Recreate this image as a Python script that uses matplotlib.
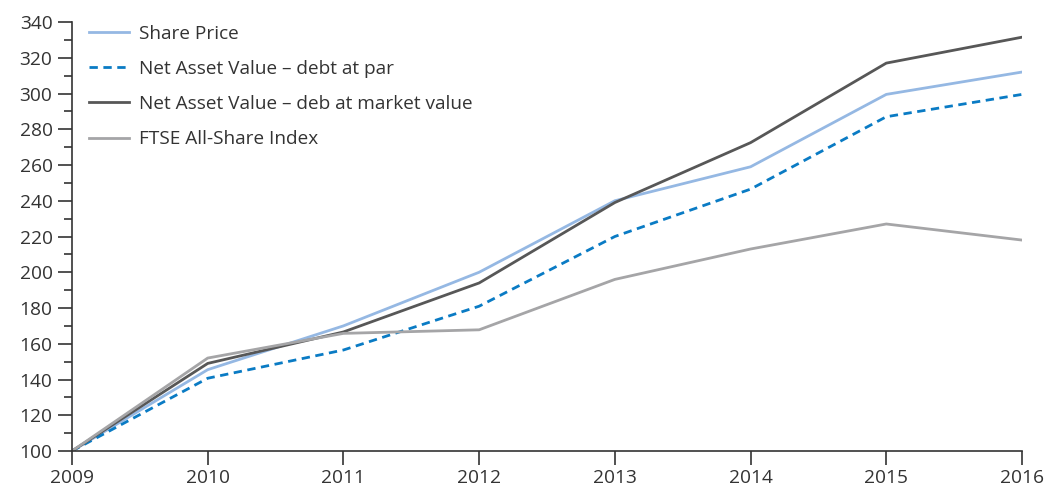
import matplotlib
matplotlib.use("Agg")
import matplotlib.pyplot as plt
from matplotlib.ticker import MultipleLocator

years = [2009, 2010, 2011, 2012, 2013, 2014, 2015, 2016]
share_price = [100, 145.5, 170, 200, 240, 259, 299.5, 312]
nav_par = [100, 140.7, 156.5, 181, 220, 246.5, 287, 299.5]
nav_market = [100, 149, 166.6, 194, 239, 272.5, 317, 331.5]
ftse = [100, 152, 165.8, 167.8, 196, 213, 227, 218]
labels = ["Share Price", "Net Asset Value \u2013 debt at par",
          "Net Asset Value \u2013 deb at market value", "FTSE All-Share Index"]

plt.rcParams['font.family'] = ['Open Sans', 'DejaVu Sans']
txt = '#333333'

fig = plt.figure(figsize=(10.48, 4.9), dpi=100)
ax = fig.add_axes([72/1048, 39/490, 950/1048, 429/490])

ax.plot(years, share_price, color='#95B8E3', lw=2.0, label=labels[0])
ax.plot(years, nav_par, color='#0A7BC4', lw=2.0, ls=(0, (3, 2)), label=labels[1])
ax.plot(years, nav_market, color='#575757', lw=2.0, label=labels[2])
ax.plot(years, ftse, color='#A5A5A7', lw=2.0, label=labels[3])

ax.set_xlim(2009, 2016)
ax.set_ylim(100, 340)
ax.set_xticks(years)
ax.yaxis.set_major_locator(MultipleLocator(20))
ax.yaxis.set_minor_locator(MultipleLocator(10))

for s in ['top', 'right']:
    ax.spines[s].set_visible(False)
for s in ['left', 'bottom']:
    ax.spines[s].set_color(txt)
    ax.spines[s].set_linewidth(1.2)

ax.tick_params(axis='y', which='major', length=10, width=1.2, color=txt,
               labelsize=13.8, labelcolor=txt, pad=4)
ax.tick_params(axis='y', which='minor', length=6, width=1.2, color=txt)
ax.tick_params(axis='x', which='major', length=10, width=1.2, color=txt,
               labelsize=13.8, labelcolor=txt, pad=3)

leg = ax.legend(loc='upper left', bbox_to_anchor=(0.0095, 1.011), frameon=False,
                fontsize=13.7, handlelength=2.1, handletextpad=0.53,
                labelspacing=0.9, borderaxespad=0)
for t in leg.get_texts():
    t.set_color(txt)

fig.savefig('out.png', dpi=100)
